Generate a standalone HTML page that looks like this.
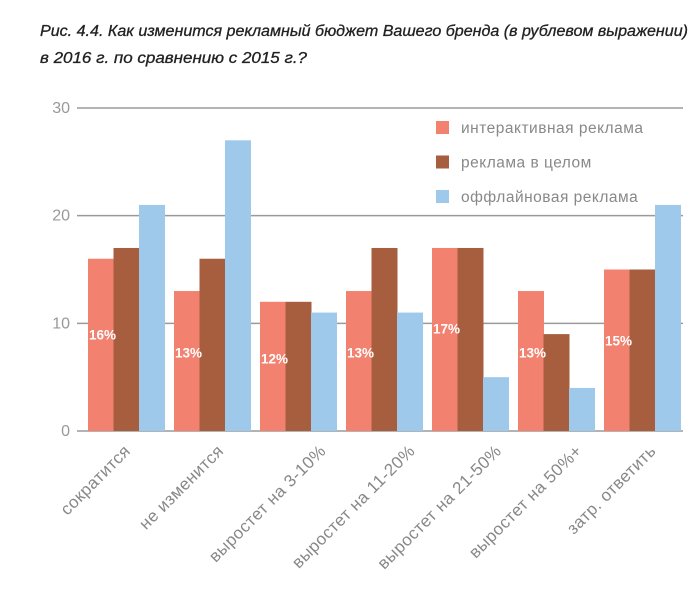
<!DOCTYPE html>
<html><head><meta charset="utf-8"><style>
html,body{margin:0;padding:0;background:#fff;}
svg{display:block;}
</style></head><body>
<svg id="chart" width="700" height="604" xmlns="http://www.w3.org/2000/svg" font-family="'Liberation Sans', sans-serif">
<text x="40" y="36" font-size="15.5" font-style="italic" fill="#222" stroke="#222" stroke-width="0.3" textLength="648" lengthAdjust="spacingAndGlyphs">Рис. 4.4. Как изменится рекламный бюджет Вашего бренда (в рублевом выражении)</text>
<text x="40" y="63" font-size="15.5" font-style="italic" fill="#222" stroke="#222" stroke-width="0.3" textLength="267" lengthAdjust="spacingAndGlyphs">в 2016 г. по сравнению с 2015 г.?</text>
<g id="grid"></g>
<g id="bars"></g>
<g id="labels"></g>
<g id="xlabels"></g>
<g id="legend"></g>
</svg>
<script>
const categories = ["сократится","не изменится","выростет на 3-10%","выростет на 11-20%","выростет на 21-50%","выростет на 50%+","затр. ответить"];
const interactive = [16,13,12,13,17,13,15];
const overall = [17,16,12,17,17,9,15];
const offline = [21,27,11,11,5,4,21];
const pctLabels = ["16%","13%","12%","13%","17%","13%","15%"];
const yTicks = [0,10,20,30];
const seriesNames = ["интерактивная реклама","реклама в целом","оффлайновая реклама"];

const colors = ["#f2826f","#a75e3f","#9fc9eb"];
const NS = "http://www.w3.org/2000/svg";
const y0 = 431, y30 = 108;
function y(v){ return y0 - (y0 - y30) * v / 30; }
const groupStart = 88, groupW = 86, barW = 25.5;
function x(i, s){ return groupStart + i * groupW + s * barW; }
function mk(tag, attrs, parent){ const e = document.createElementNS(NS, tag); for (const k in attrs) e.setAttribute(k, attrs[k]); parent.appendChild(e); return e; }

const grid = document.getElementById('grid');
yTicks.forEach(t => {
  const l = mk('line', {x1:77, x2:683, y1:y(t), y2:y(t), stroke:'#9a9a9a', 'stroke-width':1.5}, grid);
  
  
  const tx = mk('text', {x:70, y:y(t)+5, 'text-anchor':'end', 'font-size':16, fill:'#999'}, grid);
  tx.textContent = t;
  
  
});

const bars = document.getElementById('bars');
[interactive, overall, offline].forEach((arr, s) => {
  arr.forEach((v, i) => {
    const r = mk('rect', {x:x(i,s), y:y(v), width:barW+0.5, height:y0 - y(v), fill:colors[s]}, bars);
    
    
  });
});

const labels = document.getElementById('labels');
pctLabels.forEach((t, i) => {
  const tx = mk('text', {x:x(i,0)+1, y:y(interactive[i]*0.56)+5, 'font-size':13.5, 'font-weight':'bold', fill:'#fff'}, labels);
  tx.textContent = t;
  
  
});

const xl = document.getElementById('xlabels');
categories.forEach((c, i) => {
  const center = x(i,1) + barW/2;
  const tx = mk('text', {x:0, y:0, 'text-anchor':'end', 'font-size':17, fill:'#888', 'letter-spacing':'0.4'}, xl);
  tx.textContent = c;
  
  
  const L = tx.getComputedTextLength();
  const ex = center - 27 + L * 0.354, ey = 452;
  tx.setAttribute('x', ex);
  tx.setAttribute('y', ey);
  tx.setAttribute('transform', 'rotate(-45 ' + ex + ' ' + ey + ')');
});

const lg = document.getElementById('legend');
seriesNames.forEach((n, s) => {
  const yy = 121 + s * 34.5;
  const r = mk('rect', {x:436, y:yy, width:13, height:13, fill:colors[s]}, lg);
  
  
  const tx = mk('text', {x:461, y:yy+12, 'font-size':15.5, fill:'#888', 'letter-spacing':'0.5'}, lg);
  tx.textContent = n;
  
  
});
</script>
</body></html>
